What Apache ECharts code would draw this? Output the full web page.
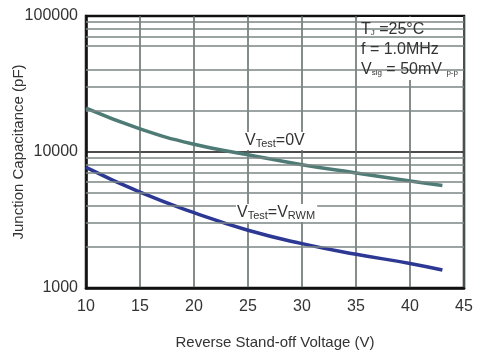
<!DOCTYPE html>
<html>
<head>
<meta charset="utf-8">
<script src="https://cdn.jsdelivr.net/npm/echarts@6/dist/echarts.min.js"></script>
<style>
  html, body { margin: 0; padding: 0; background: #fff; }
  #chart { width: 477px; height: 352px; }
</style>
</head>
<body>
<div id="chart"></div>
<script>
// reverse stand-off voltage (V)
var voltage = [10, 15, 20, 25, 30, 35, 40, 43];
// junction capacitance (pF)
var capZeroBias = [21000, 14800, 11400, 9550, 8070, 7020, 6120, 5670];
var capRwmBias = [7700, 5060, 3580, 2660, 2120, 1770, 1516, 1355];
// minor log grid lines (50000 is not drawn in the original)
var minorLines = [2000, 3000, 4000, 5000, 6000, 7000, 8000, 9000,
    20000, 30000, 40000, 60000, 70000, 80000, 90000];

var font = '"Liberation Sans", Arial, sans-serif';

function pairs(xs, ys) {
    var res = [];
    for (var i = 0; i < xs.length; i++) {
        res.push([xs[i], ys[i]]);
    }
    return res;
}

var bigTxt = { fontFamily: font, fontSize: 16, fontWeight: 'normal', color: '#333' };
var smallTxt = { fontFamily: font, fontSize: 11, fontWeight: 'normal', color: '#333', padding: [5, 0, 0, 0] };
var tinyTxt = { fontFamily: font, fontSize: 8, fontWeight: 'normal', color: '#333', padding: [6, 0, 0, 0] };

var chart = echarts.init(document.getElementById('chart'), null, { renderer: 'canvas' });
var option = {
    animation: false,
    backgroundColor: '#fff',
    grid: {
        left: 86, right: 13, top: 16, bottom: 64,
        outerBoundsMode: 'none',
        containLabel: false,
        show: true,
        borderColor: '#111',
        borderWidth: 2.5
    },
    title: [
        {
            left: 244, top: 132,
            padding: [1, 1, 1, 1],
            backgroundColor: '#fff',
            z: 8,
            text: '{a|V}{b|Test}{a|=0V}',
            textStyle: { fontWeight: 'normal', rich: { a: bigTxt, b: smallTxt } }
        },
        {
            left: 236, top: 204,
            padding: [1, 2, 1, 1],
            backgroundColor: '#fff',
            z: 8,
            text: '{a|V}{b|Test}{a|=V}{b|RWM}',
            textStyle: { fontWeight: 'normal', rich: { a: bigTxt, b: smallTxt } }
        },
        {
            left: 361, top: 20,
            padding: 0,
            z: 8,
            text: '{a|T}{c|J}{a| =25°C}\n{a|f = 1.0MHz}\n{a|V}{c|sig}{a| = 50mV }{c|p-p}',
            textStyle: {
                fontWeight: 'normal',
                lineHeight: 20,
                rich: {
                    a: { fontFamily: font, fontSize: 16, fontWeight: 'normal', color: '#333', lineHeight: 20 },
                    c: tinyTxt
                }
            }
        }
    ],
    graphic: [
        {
            type: 'rect',
            z: 5,
            shape: { x: 358, y: 17, width: 105, height: 63 },
            style: { fill: '#fff' }
        }
    ],
    xAxis: {
        type: 'value',
        min: 10,
        max: 45,
        interval: 5,
        name: 'Reverse Stand-off Voltage (V)',
        nameLocation: 'middle',
        nameGap: 47,
        nameMoveOverlap: false,
        nameTextStyle: { fontFamily: font, fontSize: 15, color: '#333' },
        axisLine: { lineStyle: { color: '#111', width: 2.5 } },
        axisTick: { show: false },
        axisLabel: { fontFamily: font, fontSize: 16, color: '#333', margin: 11 },
        splitLine: { show: true, lineStyle: { color: '#5c6765', width: 1.5 } }
    },
    yAxis: {
        type: 'log',
        logBase: 10,
        min: 1000,
        max: 100000,
        name: 'Junction Capacitance (pF)',
        nameLocation: 'middle',
        nameGap: 60,
        nameMoveOverlap: false,
        nameTextStyle: { fontFamily: font, fontSize: 15, color: '#333' },
        axisLine: { show: true, lineStyle: { color: '#111', width: 2.5 } },
        axisTick: { show: false },
        axisLabel: {
            fontFamily: font, fontSize: 16, color: '#333', margin: 8,
            formatter: function(v) { return String(Math.round(v)); }
        },
        splitLine: { show: true, lineStyle: { color: '#111', width: 1.5 } }
    },
    series: [
        {
            name: 'grid',
            type: 'line',
            data: [],
            z: 1,
            silent: true,
            markLine: {
                silent: true,
                symbol: 'none',
                label: { show: false },
                lineStyle: { color: '#7b8684', width: 1.5, type: 'solid' },
                data: minorLines.map(function(v) { return { yAxis: v }; })
            }
        },
        {
            name: 'VTest=0V',
            type: 'line',
            smooth: true,
            symbol: 'none',
            z: 3,
            lineStyle: { color: '#4e7b75', width: 3.5 },
            data: pairs(voltage, capZeroBias)
        },
        {
            name: 'VTest=VRWM',
            type: 'line',
            smooth: true,
            symbol: 'none',
            z: 3,
            lineStyle: { color: '#2c3894', width: 3.5 },
            data: pairs(voltage, capRwmBias)
        }
    ]
};
chart.setOption(option);
</script>
</body>
</html>
